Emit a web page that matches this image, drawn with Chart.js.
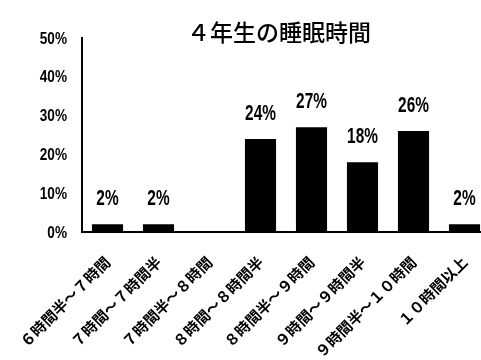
<!DOCTYPE html>
<html lang="ja">
<head>
<meta charset="utf-8">
<script src="https://cdn.jsdelivr.net/npm/chart.js@4/dist/chart.umd.min.js"></script>
<style>
  html, body { margin: 0; padding: 0; background: #fff; overflow: hidden; }
  #wrap { position: relative; width: 490px; height: 360px; }
</style>
</head>
<body>
<div id="wrap"><canvas id="sleepChart"></canvas></div>
<script>
const chartTitle = '４年生の睡眠時間';
const categories = [
  '６時間半～７時間',
  '７時間～７時間半',
  '７時間半～８時間',
  '８時間～８時間半',
  '８時間半～９時間',
  '９時間～９時間半',
  '９時間半～１０時間',
  '１０時間以上',
];
const percentValues = [2, 2, 0, 24, 27, 18, 26, 2];
const yMax = 50;
const yStep = 10;

const numFont = "'Liberation Sans', Arial, sans-serif";
const jpFont = "'Noto Sans CJK JP', 'Noto Sans', sans-serif";

// narrow text: squeeze horizontally around the anchor point
function drawNarrow(ctx, text, x, y, squeeze) {
  ctx.save();
  ctx.translate(x, y);
  ctx.scale(squeeze, 1);
  ctx.fillText(text, 0, 0);
  ctx.restore();
}

// title drawn over the plot area
const titlePlugin = {
  id: 'plotTitle',
  afterDraw(chart) {
    const { ctx, chartArea } = chart;
    ctx.save();
    ctx.font = `500 23px ${jpFont}`;
    ctx.fillStyle = '#000';
    ctx.textAlign = 'center';
    ctx.textBaseline = 'middle';
    ctx.fillText(chartTitle, (chartArea.left + chartArea.right) / 2 - 7, chartArea.top - 6);
    ctx.restore();
  },
};

// y tick labels in a condensed look
const yLabels = {
  id: 'yLabels',
  afterDraw(chart) {
    const { ctx, chartArea } = chart;
    const yScale = chart.scales.y;
    ctx.save();
    ctx.font = `bold 17px ${numFont}`;
    ctx.fillStyle = '#000';
    ctx.textAlign = 'right';
    ctx.textBaseline = 'middle';
    yScale.ticks.forEach((t) => {
      drawNarrow(ctx, `${t.value}%`, chartArea.left - 15, yScale.getPixelForValue(t.value) + 1, 0.8);
    });
    ctx.restore();
  },
};

// percent labels above each bar (skip zero)
const valueLabels = {
  id: 'valueLabels',
  afterDatasetsDraw(chart) {
    const { ctx } = chart;
    const meta = chart.getDatasetMeta(0);
    ctx.save();
    ctx.font = `bold 22px ${numFont}`;
    ctx.fillStyle = '#000';
    ctx.textAlign = 'center';
    ctx.textBaseline = 'bottom';
    meta.data.forEach((bar, i) => {
      const v = percentValues[i];
      if (!v) return;
      drawNarrow(ctx, `${v}%`, bar.x, bar.y - 14, 0.7);
    });
    ctx.restore();
  },
};

new Chart(document.getElementById('sleepChart'), {
  type: 'bar',
  data: {
    labels: categories,
    datasets: [
      {
        data: percentValues,
        backgroundColor: '#000',
        borderWidth: 0,
        categoryPercentage: 1,
        barPercentage: 0.61,
      },
    ],
  },
  options: {
    responsive: true,
    maintainAspectRatio: false,
    animation: false,
    layout: { padding: { top: 38, left: 0, right: 0, bottom: 0 } },
    plugins: {
      legend: { display: false },
      tooltip: { enabled: false },
      title: { display: false },
    },
    scales: {
      x: {
        grid: { display: false, drawTicks: false },
        border: { color: '#000', width: 2 },
        ticks: {
          color: '#000',
          font: { family: jpFont, size: 15, weight: 'bold' },
          maxRotation: 45,
          minRotation: 45,
          autoSkip: false,
          padding: 21,
        },
        afterFit(scale) {
          scale.height = 128;
          scale.paddingLeft = 0;
          scale.paddingRight = 0;
        },
      },
      y: {
        min: 0,
        max: yMax,
        grid: { display: false, drawTicks: false },
        border: { color: '#000', width: 2 },
        ticks: {
          stepSize: yStep,
          display: false,
        },
        afterFit(scale) {
          scale.width = 82;
        },
      },
    },
  },
  plugins: [titlePlugin, yLabels, valueLabels],
});
</script>
</body>
</html>
